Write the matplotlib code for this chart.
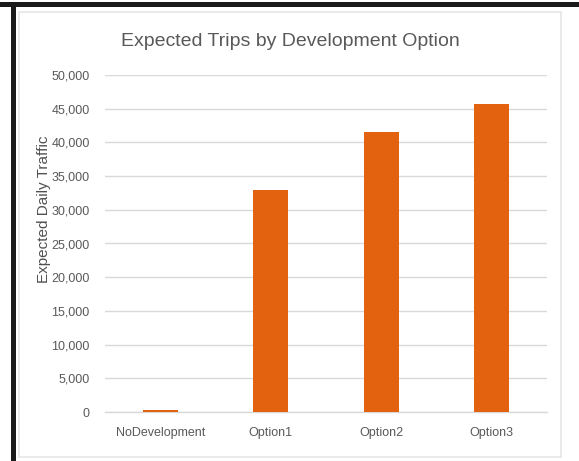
import matplotlib
matplotlib.use("Agg")
import matplotlib.pyplot as plt
from matplotlib.patches import Rectangle
from matplotlib.ticker import FuncFormatter, MultipleLocator

categories = ["NoDevelopment", "Option1", "Option2", "Option3"]
daily_trips = [300, 33000, 41500, 45700]

title = "Expected Trips by Development Option"
y_label = "Expected Daily Traffic"

W, H = 579, 461
plt.rcParams["font.family"] = ["Liberation Sans", "DejaVu Sans"]

fig = plt.figure(figsize=(W / 100, H / 100), dpi=100)
fig.patch.set_facecolor("white")

def px_rect(x0, y0, x1, y1, **kw):
    # rectangle given in pixel coordinates measured from the top-left corner
    fig.patches.append(Rectangle((x0 / W, 1 - y1 / H), (x1 - x0) / W, (y1 - y0) / H,
                                 transform=fig.transFigure, figure=fig, **kw))

# outer dark frame (top and left edges) and the light chart card
px_rect(0, 2, W, 7, facecolor="#1a1a1a", edgecolor="none", zorder=0)
px_rect(11, 2, 16, H, facecolor="#1a1a1a", edgecolor="none", zorder=0)
px_rect(19, 12, 561, 457, facecolor="white", edgecolor="#e6e6e6", linewidth=1.2, zorder=0)

ax = fig.add_axes([105 / W, 1 - 412 / H, (547 - 105) / W, (412 - 75) / H])
ax.set_zorder(2)
ax.set_facecolor("none")
gray = "#595959"

ax.bar(range(len(categories)), daily_trips, width=0.32, color="#E3620F", zorder=3)

ax.set_xlim(-0.5, len(categories) - 0.5)
ax.set_ylim(0, 50000)
ax.yaxis.set_major_locator(MultipleLocator(5000))
ax.yaxis.set_major_formatter(FuncFormatter(lambda v, p: f"{int(v):,}"))
ax.set_xticks(range(len(categories)))
ax.set_xticklabels(categories)

ax.grid(axis="y", color="#d9d9d9", linewidth=1.0, zorder=0)
for s in ["top", "right", "left"]:
    ax.spines[s].set_visible(False)
ax.spines["bottom"].set_color("#d9d9d9")
ax.spines["bottom"].set_linewidth(1.0)
ax.tick_params(axis="both", length=0, colors=gray, labelsize=9)
ax.tick_params(axis="y", pad=11)
ax.tick_params(axis="x", pad=11)

ax.set_ylabel(y_label, color="#505050", fontsize=11)
ax.yaxis.set_label_coords((51 - 105) / 442, (412 - 209) / 337)

fig.text(290 / W, 1 - 41 / H, title, ha="center", va="center", color=gray, fontsize=14,
         zorder=3)

fig.savefig("out.png", dpi=100)
